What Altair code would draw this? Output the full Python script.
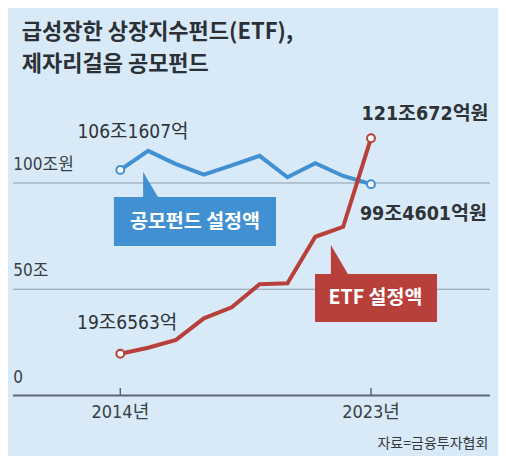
import pandas as pd
import altair as alt

# values (조원)
years = list(range(2014, 2024))
public_fund = [106.16, 115.1, 108.9, 103.9, 108.3, 112.8, 102.7, 109.3, 103.3, 99.46]
etf = [19.66, 22.5, 26.2, 36.3, 41.5, 52.4, 52.8, 74.7, 79.4, 121.07]

title_lines = ["급성장한 상장지수펀드(ETF),", "제자리걸음 공모펀드"]
fund_end_labels = ["106조1607억", "99조4601억원"]
etf_end_labels = ["19조6563억", "121조672억원"]
y_ticks = [0, 50, 100]
y_tick_labels = ["0", "50조", "100조원"]
x_ticks = [2014, 2023]
x_tick_labels = ["2014년", "2023년"]
source = "자료=금융투자협회"

BG = "#d8eaf7"
BLUE = "#4191d2"
RED = "#b8403a"
INK = "#2e3338"
KR = "Noto Sans CJK KR"
NARROW = "Liberation Sans Narrow, DejaVu Sans Condensed, Noto Sans CJK KR"

xs = alt.Scale(domain=[2009.9685, 2027.5585], nice=False, zero=False)
ys = alt.Scale(domain=[-28.47, 182.35], nice=False, zero=False)

fund = pd.DataFrame({"year": years, "value": public_fund})
etf_df = pd.DataFrame({"year": years, "value": etf})


def X(field="year"):
    return alt.X(field, type="quantitative", scale=xs, axis=None)


def Y(field="value"):
    return alt.Y(field, type="quantitative", scale=ys, axis=None)


layers = []

# gridlines and baseline
grid = alt.Chart(pd.DataFrame({"value": y_ticks[1:]})).mark_rule(
    color="#8e9ba7", strokeWidth=1
).encode(y=Y(), x=alt.value(5), x2=alt.value(482))
base = alt.Chart(pd.DataFrame({"value": [0]})).mark_rule(
    color="#5b6977", strokeWidth=2
).encode(y=Y(), x=alt.value(5), x2=alt.value(482))
ticks = alt.Chart(pd.DataFrame({"year": x_ticks})).mark_rule(
    color="#5b6977", strokeWidth=1.5
).encode(x=X(), y=alt.value(380), y2=alt.value(387.5))
layers += [grid, base, ticks]

# y tick labels
ylab = alt.Chart(pd.DataFrame({"value": y_ticks, "t": y_tick_labels})).mark_text(
    align="left", baseline="middle", dy=-18, font=NARROW, fontSize=17, color="#3a3f44"
).encode(y=Y(), x=alt.value(5.3), text="t:N")
# x tick labels
xlab = alt.Chart(pd.DataFrame({"year": x_ticks, "t": x_tick_labels})).mark_text(
    align="center", baseline="middle", font=NARROW, fontSize=18, color="#3a3f44"
).encode(x=X(), y=alt.value(405), text="t:N")
layers += [ylab, xlab]

# callout boxes with pointers
boxes = pd.DataFrame({
    "x": [2013.77, 2020.99], "x2": [2019.59, 2025.37],
    "y": [70.35, 34.6], "y2": [93.4, 57.2],
    "s": ["fund", "etf"],
})
box = alt.Chart(boxes).mark_rect().encode(
    x=X("x"), x2="x2", y=Y("y"), y2="y2",
    color=alt.Color("s:N", scale=alt.Scale(domain=["fund", "etf"], range=[BLUE, RED]), legend=None),
)
ptr_fund = alt.Chart(pd.DataFrame({"x": [2014.82, 2015.35], "y": [105.2, 93.4], "b": [93.4, 93.4]})).mark_area(
    color=BLUE, opacity=1
).encode(x=X("x"), y=Y("y"), y2="b")
ptr_etf = alt.Chart(pd.DataFrame({"x": [2021.56, 2022.17], "y": [70.8, 57.2], "b": [57.2, 57.2]})).mark_area(
    color=RED, opacity=1
).encode(x=X("x"), y=Y("y"), y2="b")
box_text = alt.Chart(pd.DataFrame({
    "x": [2016.68, 2023.16], "y": [81.6, 45.9], "t": ["공모펀드 설정액", "ETF 설정액"]
})).mark_text(
    align="center", baseline="middle", font=KR, fontSize=19.5, fontWeight="bold", color="white"
).encode(x=X("x"), y=Y("y"), text="t:N")
layers += [box, ptr_fund, ptr_etf, box_text]

# lines
fund_line = alt.Chart(fund).mark_line(color=BLUE, strokeWidth=4, strokeJoin="miter").encode(x=X(), y=Y())
etf_line = alt.Chart(etf_df).mark_line(color=RED, strokeWidth=4, strokeJoin="miter").encode(x=X(), y=Y())
layers += [fund_line, etf_line]

# end markers
for df, col in [(fund, BLUE), (etf_df, RED)]:
    ends = df.iloc[[0, -1]]
    layers.append(
        alt.Chart(ends).mark_point(
            filled=True, fill="white", stroke=col, strokeWidth=2, size=62, opacity=1
        ).encode(x=X(), y=Y())
    )


def end_label(df, idx, text, dx, dy, bold):
    row = df.iloc[[idx]].assign(t=text)
    return alt.Chart(row).mark_text(
        align="center", baseline="middle", dx=dx, dy=dy, font=NARROW,
        fontSize=19.5 if bold else 19, fontWeight="bold" if bold else "normal", color=INK
    ).encode(x=X(), y=Y(), text="t:N")


layers += [
    end_label(fund, 0, fund_end_labels[0], 12.7, -38, False),
    end_label(fund, -1, fund_end_labels[1], 52.4, 30, True),
    end_label(etf_df, 0, etf_end_labels[0], 6.9, -31.2, False),
    end_label(etf_df, -1, etf_end_labels[1], 54, -24, True),
]

# title and source
for i, line in enumerate(title_lines):
    layers.append(
        alt.Chart(pd.DataFrame({"t": [line]})).mark_text(
            align="left", baseline="middle", font=KR, fontSize=22, fontWeight="bold", color="#2b3036"
        ).encode(x=alt.value(13.7), y=alt.value(23.7 + 32.3 * i), text="t:N")
    )
layers.append(
    alt.Chart(pd.DataFrame({"t": [source]})).mark_text(
        align="right", baseline="middle", font=KR, fontSize=14, color="#34393e"
    ).encode(x=alt.value(480.3), y=alt.value(436), text="t:N")
)

chart = alt.layer(*layers).properties(
    width=490,
    height=448,
    autosize=alt.AutoSizeParams(type="none"),
    padding=0,
    background=BG,
).configure_view(strokeWidth=0)

chart.save("out.html", embed_options={"renderer": "svg", "actions": False})
